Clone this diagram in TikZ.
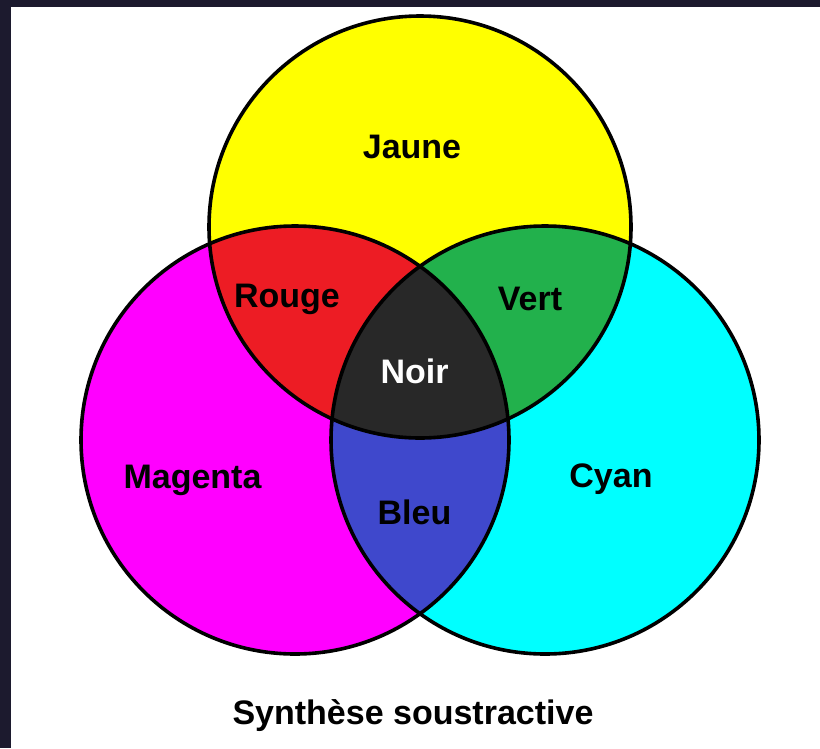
\documentclass[tikz,border=0pt]{standalone}
\usepackage{fontspec}
\setmainfont{Liberation Sans}
\definecolor{frameink}{HTML}{1C1A2E}
\definecolor{cJaune}{HTML}{FFFF00}
\definecolor{cMagenta}{HTML}{FF00FF}
\definecolor{cCyan}{HTML}{00FFFF}
\definecolor{cRouge}{HTML}{ED1C24}
\definecolor{cVert}{HTML}{22B14C}
\definecolor{cBleu}{HTML}{3F48CC}
\definecolor{cNoir}{HTML}{282828}
\tikzset{
  lbl/.style={anchor=base, inner sep=0pt, font=\fontsize{34}{40}\selectfont\bfseries},
  rim/.style={draw=black, line width=3.6pt}
}
\begin{document}
\begin{tikzpicture}[x=1pt, y=-1pt]
  \useasboundingbox (0,0) rectangle (820,748);
  \fill[white] (0,0) rectangle (820,748);
  % dark frame along the left and top edges
  \fill[frameink] (0,0) rectangle (11,748);
  \fill[frameink] (0,0) rectangle (820,7);

  % circle centres
  \coordinate (cy) at (420,227);
  \coordinate (cm) at (295,440);
  \coordinate (cc) at (545,440);
  \def\ry{211pt}
  \def\rm{214pt}

  % primary discs
  \fill[cJaune] (cy) circle[radius=\ry];
  \fill[cMagenta] (cm) circle[radius=\rm];
  \fill[cCyan] (cc) circle[radius=\rm];

  % pairwise overlaps
  \begin{scope}
    \clip (cy) circle[radius=\ry];
    \fill[cRouge] (cm) circle[radius=\rm];
    \fill[cVert] (cc) circle[radius=\rm];
  \end{scope}
  \begin{scope}
    \clip (cm) circle[radius=\rm];
    \fill[cBleu] (cc) circle[radius=\rm];
  \end{scope}
  % triple overlap
  \begin{scope}
    \clip (cy) circle[radius=\ry];
    \clip (cm) circle[radius=\rm];
    \fill[cNoir] (cc) circle[radius=\rm];
  \end{scope}

  % outlines
  \draw[rim] (cy) circle[radius=\ry];
  \draw[rim] (cm) circle[radius=\rm];
  \draw[rim] (cc) circle[radius=\rm];

  % labels
  \node[lbl] (jaune) at (412,158) {Jaune};
  \node[lbl] (rouge) at (287,307) {Rouge};
  \node[lbl] (vert) at (530,310) {Vert};
  \node[lbl, text=white] (noir) at (414.5,383) {Noir};
  \node[lbl] (magenta) at (192.5,488) {Magenta};
  \node[lbl] (cyan) at (611,487) {Cyan};
  \node[lbl] (bleu) at (414.5,524) {Bleu};
  \node[lbl] (titre) at (413,724) {Synthèse soustractive};
\end{tikzpicture}
\end{document}
